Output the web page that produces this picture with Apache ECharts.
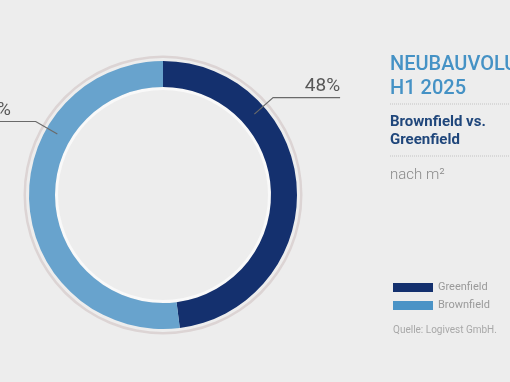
<!DOCTYPE html>
<html>
<head>
<meta charset="utf-8">
<script src="https://cdn.jsdelivr.net/npm/echarts@6/dist/echarts.min.js"></script>
<style>
html,body{margin:0;padding:0;background:#ededed;}
#c{width:510px;height:382px;}
</style>
</head>
<body>
<div id="c"></div>
<script>
// ---- data ----
var categories = ['Greenfield', 'Brownfield'];
var shares = [48, 52];
var titleLines = ['NEUBAUVOLUMEN', 'H1 2025'];
var subtitleLines = ['Brownfield vs.', 'Greenfield'];
var unitText = 'nach m\u00B2';
var sourceText = 'Quelle: Logivest GmbH.';

// ---- layout / style ----
var CX = 163, CY = 195;
var ringColors = ['#14306e', '#68a3cd'];
var legendColors = ['#14306e', '#4a93c6'];
var FONT = 'Roboto, "Noto Sans", sans-serif';

// label leader geometry: angle (deg clockwise from top), radii, horizontal run
var leader = [
  {ang: 48.5, r1: 122, r2: 147, run: 67},
  {ang: -60, r1: 122, r2: 147, run: -60}
];
function pt(ang, r) {
  var a = ang * Math.PI / 180;
  return [CX + r * Math.sin(a), CY - r * Math.cos(a)];
}

var chart = echarts.init(document.getElementById('c'), null, {renderer: 'canvas'});

var pieData = categories.map(function (n, i) {
  return {name: n, value: shares[i], itemStyle: {color: ringColors[i]}};
});
var overlayData = categories.map(function (n, i) {
  return {name: n, value: shares[i], itemStyle: {color: 'rgba(0,0,0,0)'}};
});

var option = {
  backgroundColor: '#ededed',
  animation: false,
  legend: {
    orient: 'vertical',
    left: 393,
    top: 282,
    padding: 0,
    itemWidth: 40,
    itemHeight: 9,
    itemGap: 7,
    icon: 'rect',
    selectedMode: false,
    textStyle: {color: '#9a9a9a', fontSize: 11, fontFamily: FONT},
    data: categories.map(function (n, i) {
      return {name: n, itemStyle: {color: legendColors[i]}};
    })
  },
  series: [
    {
      type: 'pie', silent: true, center: [CX, CY], radius: [137, 139.5],
      label: {show: false}, labelLine: {show: false},
      itemStyle: {color: '#dcd4d4'}, data: [{value: 1, name: '_o'}]
    },
    {
      type: 'pie', silent: true, center: [CX, CY], radius: [105, 108],
      label: {show: false}, labelLine: {show: false},
      itemStyle: {color: '#f9f9f9'}, data: [{value: 1, name: '_i'}]
    },
    {
      type: 'pie',
      center: [CX, CY],
      radius: [108, 134],
      startAngle: 90,
      clockwise: true,
      silent: true,
      data: pieData,
      label: {show: false},
      labelLine: {show: false}
    },
    {
      type: 'pie',
      z: 5,
      center: [CX, CY],
      radius: [108, 134],
      startAngle: 90,
      clockwise: true,
      silent: true,
      data: overlayData,
      label: {
        show: true,
        formatter: '{c}%',
        fontSize: 19,
        color: '#585858',
        fontFamily: FONT,
        width: 80,
        overflow: 'none'
      },
      labelLine: {show: true, showAbove: true, lineStyle: {color: '#6a6a6a', width: 1.2}},
      labelLayout: function (p) {
        var L = leader[p.dataIndex];
        var a = pt(L.ang, L.r1), b = pt(L.ang, L.r2);
        var c = [b[0] + L.run, b[1]];
        return {
          x: c[0],
          y: c[1] - 2,
          align: L.run > 0 ? 'right' : 'left',
          verticalAlign: 'bottom',
          labelLinePoints: [a, b, c]
        };
      }
    }
  ],
  graphic: [
    {type: 'text', left: 390, top: 55, style: {text: titleLines[0], font: '500 20px ' + FONT, fill: '#4592c5'}},
    {type: 'text', left: 390, top: 78.5, style: {text: titleLines[1], font: '500 20px ' + FONT, fill: '#4592c5'}},
    {type: 'line', shape: {x1: 390, y1: 104, x2: 510, y2: 104}, style: {stroke: '#c4c4c4', lineWidth: 1, lineDash: [1, 1]}},
    {type: 'text', left: 390, top: 114.5, style: {text: subtitleLines[0], font: 'bold 15px ' + FONT, fill: '#1f467b'}},
    {type: 'text', left: 390, top: 133, style: {text: subtitleLines[1], font: 'bold 15px ' + FONT, fill: '#1f467b'}},
    {type: 'line', shape: {x1: 390, y1: 156, x2: 510, y2: 156}, style: {stroke: '#c4c4c4', lineWidth: 1, lineDash: [1, 1]}},
    {type: 'text', left: 390, top: 168, style: {text: unitText, font: '300 15px ' + FONT, fill: '#8a8a8a'}},
    {type: 'text', left: 393, top: 325, style: {text: sourceText, font: '10px ' + FONT, fill: '#a8a8a8'}}
  ]
};
chart.setOption(option);
</script>
</body>
</html>
